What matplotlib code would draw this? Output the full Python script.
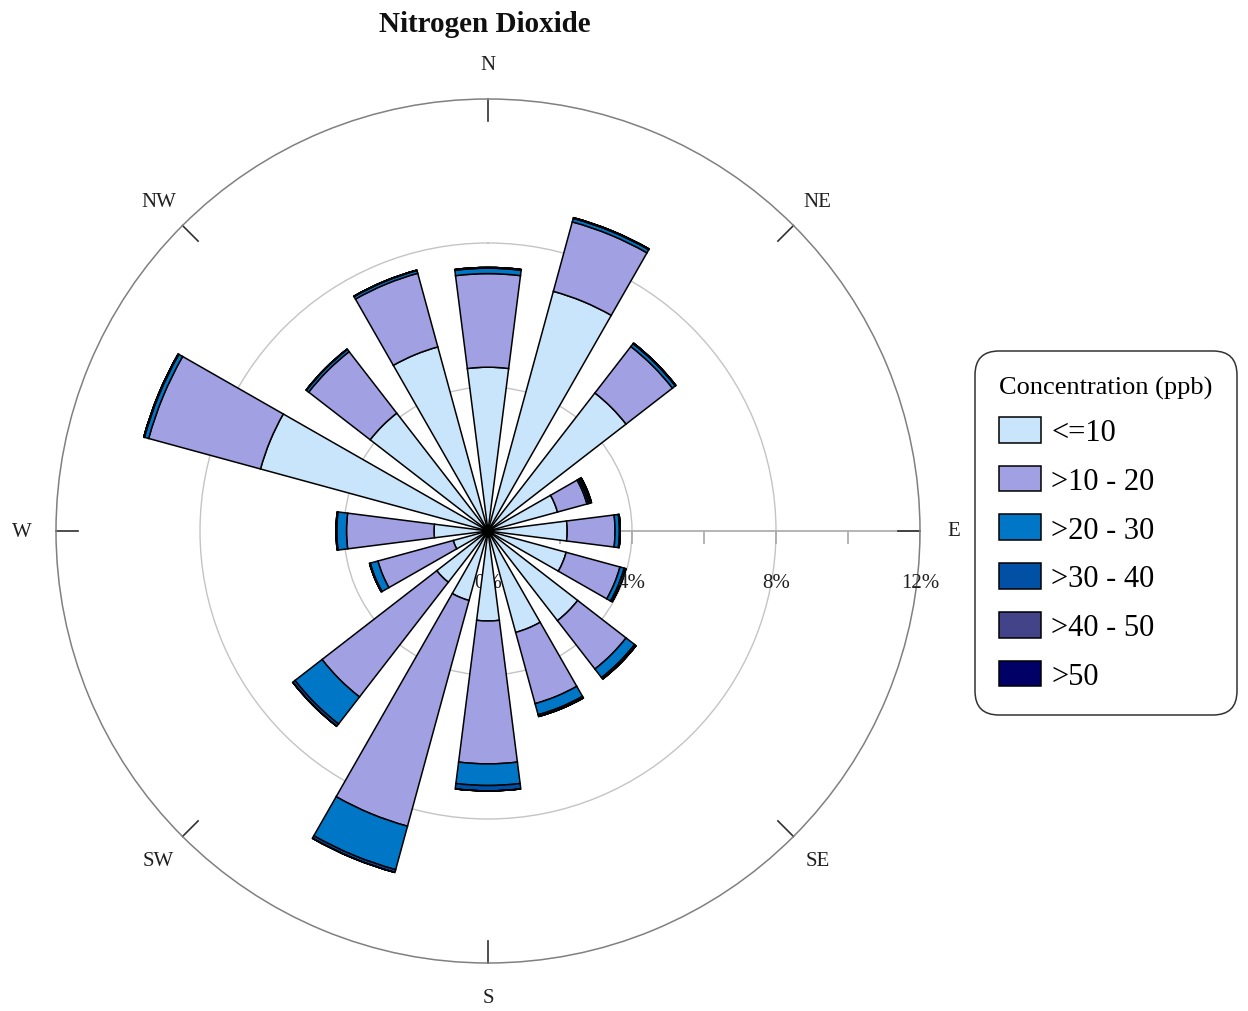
import numpy as np
import matplotlib
matplotlib.use("Agg")
import matplotlib.pyplot as plt
from matplotlib.patches import Patch

# ---- data ----
directions = ["N", "NNE", "NE", "ENE", "E", "ESE", "SE", "SSE",
              "S", "SSW", "SW", "WSW", "W", "WNW", "NW", "NNW"]
le10   = [4.55, 6.90, 4.85, 2.00, 2.20, 2.25, 3.15, 2.92, 2.50, 2.00, 1.80, 1.00, 1.50, 6.55, 4.14, 5.30]
c10_20 = [2.60, 2.00, 1.63, 0.85, 1.33, 1.55, 1.70, 2.05, 3.97, 6.50, 4.03, 2.17, 2.43, 3.22, 2.16, 2.12]
c20_30 = [0.15, 0.10, 0.10, 0.05, 0.12, 0.12, 0.30, 0.32, 0.60, 1.25, 0.95, 0.22, 0.27, 0.12, 0.08, 0.08]
c30_40 = [0.02, 0.02, 0.02, 0.05, 0.02, 0.05, 0.05, 0.05, 0.15, 0.08, 0.08, 0.02, 0.02, 0.02, 0.01, 0.01]
c40_50 = [0.00, 0.00, 0.00, 0.03, 0.00, 0.00, 0.00, 0.00, 0.00, 0.00, 0.00, 0.00, 0.00, 0.00, 0.00, 0.00]
gt50   = [0.00] * 16
series_labels = ["<=10", ">10 - 20", ">20 - 30", ">30 - 40", ">40 - 50", ">50"]
series_colors = ["#C9E5FB", "#A0A0E3", "#0077C6", "#0050A6", "#43438A", "#000066"]
compass_labels = ["N", "NE", "E", "SE", "S", "SW", "W", "NW"]
r_ticks = [2, 4, 6, 8, 10, 12]
r_ticklabels = ["0%", "4%", "8%", "12%"]
r_labelpos = [0, 4, 8, 12]
title = "Nitrogen Dioxide"
legend_title = "Concentration (ppb)"

serif = ["Liberation Serif", "DejaVu Serif"]
plt.rcParams["font.family"] = serif

W, H = 1248, 1012
fig = plt.figure(figsize=(W / 100, H / 100), dpi=100)
cx, cy, R = 488, 532, 432
ax = fig.add_axes([(cx - R) / W, 1 - (cy + R) / H, 2 * R / W, 2 * R / H], projection="polar")
ax.set_theta_zero_location("N")
ax.set_theta_direction(-1)
ax.set_ylim(0, 12)
ax.set_xticks([])
ax.set_yticks([4, 8])
ax.set_yticklabels([])
ax.yaxis.grid(True, color="#C4C4C4", lw=1.0)
ax.set_axisbelow(True)
ax.spines["polar"].set_color("#808080")
ax.spines["polar"].set_linewidth(1.1)

theta = np.deg2rad(np.arange(16) * 22.5)
width = np.deg2rad(14.5)
series = [le10, c10_20, c20_30, c30_40, c40_50, gt50]
bottom = np.zeros(16)
for vals, col in zip(series, series_colors):
    v = np.array(vals)
    ax.bar(theta, v, width=width, bottom=bottom, color=col, edgecolor="black",
           linewidth=1.1, zorder=3, align="center")
    bottom = bottom + v

# radial axis along E
ax.plot([np.pi / 2, np.pi / 2], [0, 12], color="#A8A8A8", lw=1.2, zorder=1)
ax.plot([np.pi / 2] * len(r_ticks), r_ticks, ls="", marker=3, ms=9, mew=1.2,
        color="#A8A8A8", zorder=1)
for rl, lab in zip(r_labelpos, r_ticklabels):
    ax.annotate(lab, xy=(np.pi / 2, rl), xytext=(0, -37), textcoords="offset points",
                ha="center", va="center", fontsize=15, color="#202020",
                zorder=0 if rl == 0 else 4, annotation_clip=False)

# compass ticks and labels
for i, lab in enumerate(compass_labels):
    a = np.deg2rad(i * 45)
    ax.plot([a, a], [12 - 22 / 36, 12], color="#303030", lw=1.2, zorder=2, clip_on=False)
    ax.text(a, 12.95, lab, ha="center", va="center", fontsize=15, color="#202020",
            clip_on=False)

fig.text(485 / W, 1 - 25 / H, title, ha="center", va="center", fontsize=21,
         fontweight="bold", color="#101010")

handles = [Patch(facecolor=c, edgecolor="black", linewidth=1.1) for c in series_colors]
leg = fig.legend(handles, series_labels, title=legend_title, loc="upper left",
                 bbox_to_anchor=(975 / W, 1 - 352 / H), borderaxespad=0,
                 fontsize=22, title_fontsize=19,
                 handlelength=1.37, handleheight=0.92, handletextpad=0.33,
                 labelspacing=0.6, borderpad=0.8, fancybox=True, frameon=True)
leg.get_frame().set_edgecolor("black")
leg.get_frame().set_linewidth(1.1)
leg.get_frame().set_boxstyle("round,pad=0,rounding_size=0.8")
leg._legend_box.align = "left"

fig.savefig("out.png", dpi=100)
